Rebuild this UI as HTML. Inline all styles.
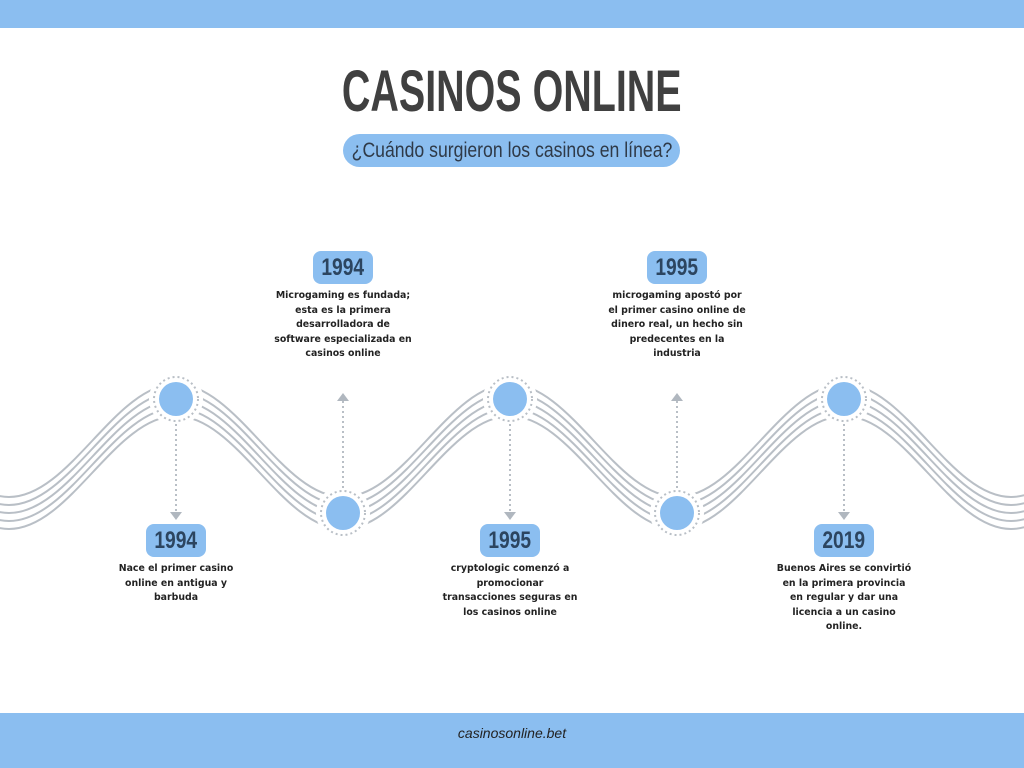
<!DOCTYPE html>
<html><head><meta charset="utf-8"><style>
body{margin:0;width:1024px;height:768px;position:relative;background:#fff;font-family:"Liberation Sans",sans-serif;overflow:hidden}
.bar{position:absolute;left:0;width:1024px;background:#8bbef0}
.title{position:absolute;top:58px;left:0;width:1024px;text-align:center;font-weight:bold;font-size:58px;color:#404040;white-space:nowrap}
.title span{display:inline-block;transform:scaleX(0.68)}
.pill{position:absolute;left:343px;top:134px;width:337px;height:33px;border-radius:17px;background:#8bbef0;line-height:33px;font-size:21px;color:#2f3a48;white-space:nowrap}
.pill span{position:absolute;left:50%;top:0;transform:translateX(-50%) scaleX(0.84)}
.yr{position:absolute;width:60px;height:33px;border-radius:8px;background:#8bbef0;text-align:center;line-height:34px;font-weight:bold;font-size:24px;color:#2c4560;white-space:nowrap}
.yr span{display:inline-block;transform:scaleX(0.8)}
.tx{position:absolute;width:140px;text-align:center;font-family:"DejaVu Sans",sans-serif;font-size:9.4px;font-weight:bold;line-height:14.5px;color:#222}
.foot{position:absolute;top:725px;left:0;width:1024px;text-align:center;font-style:italic;font-size:14px;color:#222}
</style></head><body>
<div class="bar" style="top:0;height:28px"></div>
<div class="bar" style="top:713px;height:55px"></div>
<div class="title"><span>CASINOS ONLINE</span></div>
<div class="pill"><span>¿Cuándo surgieron los casinos en línea?</span></div>
<svg width="1024" height="768" style="position:absolute;left:0;top:0">
<defs><path id="w" d="M-158,400 C-97,400 -52,513 9,513 C70,513 115,400 176,400 C237,400 282,513 343,513 C404,513 449,400 510,400 C571,400 616,513 677,513 C738,513 783,400 844,400 C905,400 950,513 1011,513 C1072,513 1117,400 1178,400" fill="none" stroke="#b9bfc6" stroke-width="2"/></defs>
<use href="#w" y="-16"/><use href="#w" y="-8"/><use href="#w"/><use href="#w" y="8"/><use href="#w" y="16"/>
<g fill="#fff">
<circle cx="176" cy="399" r="27"/><circle cx="510" cy="399" r="27"/><circle cx="844" cy="399" r="27"/>
<circle cx="343" cy="513" r="27"/><circle cx="677" cy="513" r="27"/>
</g>
<g stroke="#b9bfc6" stroke-width="2" stroke-dasharray="2 3" fill="none">
<circle cx="176" cy="399" r="22"/><circle cx="510" cy="399" r="22"/><circle cx="844" cy="399" r="22"/>
<circle cx="343" cy="513" r="22"/><circle cx="677" cy="513" r="22"/>
<line x1="176" y1="424" x2="176" y2="512"/><line x1="510" y1="424" x2="510" y2="512"/><line x1="844" y1="424" x2="844" y2="512"/>
<line x1="343" y1="488" x2="343" y2="400"/><line x1="677" y1="488" x2="677" y2="400"/>
</g>
<g fill="#8bbef0">
<circle cx="176" cy="399" r="17"/><circle cx="510" cy="399" r="17"/><circle cx="844" cy="399" r="17"/>
<circle cx="343" cy="513" r="17"/><circle cx="677" cy="513" r="17"/>
</g>
<g fill="#b0b7bf">
<path d="M170,512 L182,512 L176,520Z"/><path d="M504,512 L516,512 L510,520Z"/><path d="M838,512 L850,512 L844,520Z"/>
<path d="M337,401 L349,401 L343,393Z"/><path d="M671,401 L683,401 L677,393Z"/>
</g>
</svg>
<div class="yr" style="left:313px;top:251px"><span>1994</span></div>
<div class="tx" style="left:273px;top:289px">Microgaming es fundada; esta es la primera desarrolladora de software especializada en casinos online</div>
<div class="yr" style="left:647px;top:251px"><span>1995</span></div>
<div class="tx" style="left:607px;top:289px">microgaming apostó por el primer casino online de dinero real, un hecho sin predecentes en la industria</div>
<div class="yr" style="left:146px;top:524px"><span>1994</span></div>
<div class="tx" style="left:106px;top:562px">Nace el primer casino online en antigua y barbuda</div>
<div class="yr" style="left:480px;top:524px"><span>1995</span></div>
<div class="tx" style="left:440px;top:562px">cryptologic comenzó a promocionar transacciones seguras en los casinos online</div>
<div class="yr" style="left:814px;top:524px"><span>2019</span></div>
<div class="tx" style="left:776px;top:562px;width:136px">Buenos Aires se convirtió en la primera provincia en regular y dar una licencia a un casino online.</div>
<div class="foot">casinosonline.bet</div>
</body></html>
